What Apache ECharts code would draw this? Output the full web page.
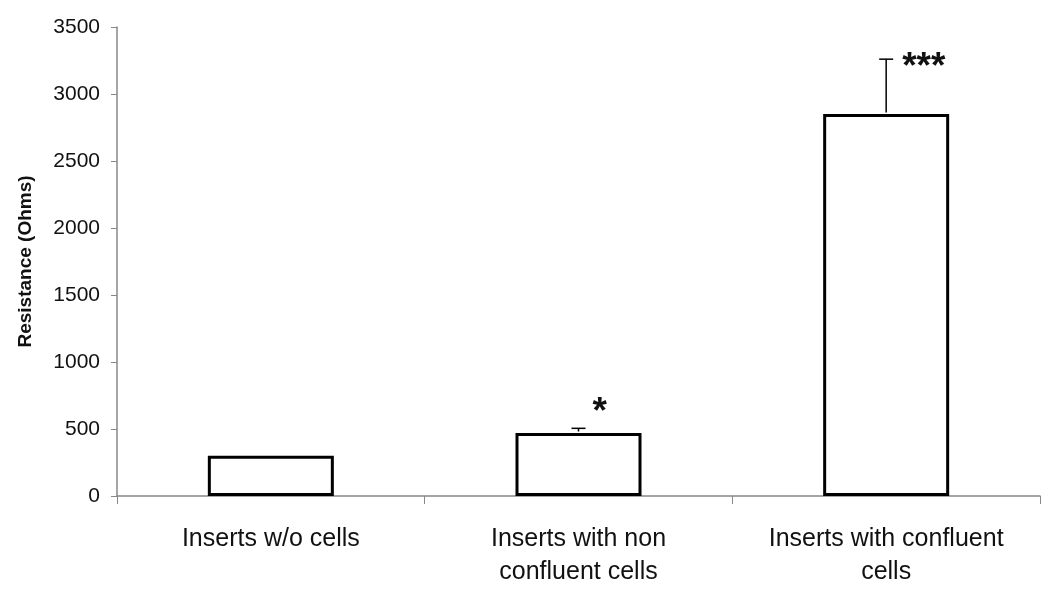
<!DOCTYPE html>
<html>
<head>
<meta charset="utf-8">
<script src="https://cdn.jsdelivr.net/npm/echarts@6/dist/echarts.min.js"></script>
<style>
  html, body { margin: 0; padding: 0; background: #fff; }
  #chart { width: 1050px; height: 595px; }
</style>
</head>
<body>
<div id="chart"></div>
<script>
// data
const categories = ['Inserts w/o cells', 'Inserts with non\nconfluent cells', 'Inserts with confluent\ncells']
const meanValues = [300, 470, 2850]
const errorValues = [0, 35, 410]
const sigLabels = ['', '*', '***']
const yTicks = { min: 0, max: 3500, interval: 500 }

const chart = echarts.init(document.getElementById('chart'))

const errorData = meanValues.map((v, i) => [i, v, v + errorValues[i], sigLabels[i]])

// star placement relative to top of error bar
const starOffset = [[0, 0], [14, -34], [16, -10]]

const option = {
  animation: false,
  backgroundColor: '#fff',
  textStyle: { fontFamily: 'Liberation Sans, Arial, sans-serif' },
  grid: { left: 117, right: 10, top: 27, bottom: 99 },
  xAxis: {
    type: 'category',
    data: categories,
    axisLine: { lineStyle: { color: '#888', width: 1.5 } },
    axisTick: { show: true, alignWithLabel: false, length: 8, lineStyle: { color: '#888' } },
    axisLabel: { color: '#111', fontSize: 25, lineHeight: 33, margin: 27, interval: 0 },
    splitLine: { show: false }
  },
  yAxis: {
    type: 'value',
    min: yTicks.min,
    max: yTicks.max,
    interval: yTicks.interval,
    name: 'Resistance (Ohms)',
    nameLocation: 'middle',
    nameGap: 82,
    nameTextStyle: { color: '#111', fontSize: 19, fontWeight: 'bold' },
    axisLine: { show: true, lineStyle: { color: '#888', width: 1.5 } },
    axisTick: { show: true, length: 6, lineStyle: { color: '#888' } },
    axisLabel: { color: '#111', fontSize: 21, margin: 17, formatter: function (v) { return String(v) } },
    splitLine: { show: false }
  },
  series: [
    {
      type: 'bar',
      data: meanValues,
      barWidth: 126,
      itemStyle: { color: '#fff', borderColor: '#000', borderWidth: 3 },
      z: 2
    },
    {
      type: 'custom',
      data: errorData,
      z: 3,
      renderItem: function (params, api) {
        const idx = api.value(0)
        const base = api.coord([idx, api.value(1)])
        const top = api.coord([idx, api.value(2)])
        const label = sigLabels[idx]
        const children = []
        if (errorValues[idx] > 0) {
          children.push({
            type: 'line',
            shape: { x1: base[0], y1: base[1] - 1.5, x2: top[0], y2: top[1] },
            style: { stroke: '#000', lineWidth: 1.5 }
          })
          children.push({
            type: 'line',
            shape: { x1: top[0] - 7, y1: top[1], x2: top[0] + 7, y2: top[1] },
            style: { stroke: '#000', lineWidth: 1.5 }
          })
        }
        if (label) {
          children.push({
            type: 'text',
            x: top[0] + starOffset[idx][0],
            y: top[1] + starOffset[idx][1],
            style: {
              text: label,
              fill: '#111',
              fontSize: 37,
              fontWeight: 'bold',
              fontFamily: 'Liberation Sans, Arial, sans-serif',
              textAlign: 'left',
              textVerticalAlign: 'top'
            }
          })
        }
        return { type: 'group', children: children }
      }
    }
  ]
}

chart.setOption(option)
</script>
</body>
</html>
